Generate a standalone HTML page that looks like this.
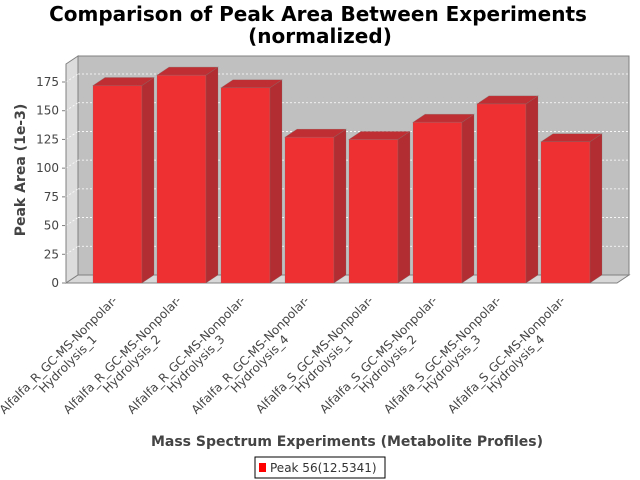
<!DOCTYPE html>
<html><head><meta charset="utf-8"><style>
body{margin:0;background:#fff}
svg{display:block;font-family:"DejaVu Sans","Liberation Sans",sans-serif}
</style></head><body>
<svg id="chart" width="640" height="480">
<rect width="640" height="480" fill="#fff"/>
<g font-weight="bold" font-size="20" text-anchor="middle" fill="#000">
<text x="318" y="21">Comparison of Peak Area Between Experiments</text>
<text x="320" y="43">(normalized)</text>
</g>
<g id="plot"></g>
<text transform="translate(25,170) rotate(-90)" text-anchor="middle" font-size="14" font-weight="bold" fill="#444">Peak Area (1e-3)</text>
<text x="347" y="446" text-anchor="middle" font-size="14" font-weight="bold" fill="#444">Mass Spectrum Experiments (Metabolite Profiles)</text>
<g>
<rect x="255" y="457" width="130" height="21" fill="#fff" stroke="#000"/>
<rect x="259" y="463" width="7" height="9" fill="#ff0000"/>
<text x="270" y="472" font-size="12" fill="#333">Peak 56(12.5341)</text>
</g>
</svg>
<script>
const categories=["Alfalfa_R_GC-MS-Nonpolar-|Hydrolysis_1","Alfalfa_R_GC-MS-Nonpolar-|Hydrolysis_2","Alfalfa_R_GC-MS-Nonpolar-|Hydrolysis_3","Alfalfa_R_GC-MS-Nonpolar-|Hydrolysis_4","Alfalfa_S_GC-MS-Nonpolar-|Hydrolysis_1","Alfalfa_S_GC-MS-Nonpolar-|Hydrolysis_2","Alfalfa_S_GC-MS-Nonpolar-|Hydrolysis_3","Alfalfa_S_GC-MS-Nonpolar-|Hydrolysis_4"];
const values=[172,181,170,127,125,140,156,123];
const yTicks=[0,25,50,75,100,125,150,175];
const NS="http://www.w3.org/2000/svg";
const g=document.getElementById('plot');
const X0=66,X1=617,Y0=283,TOP=64,DX=12,DY=-8,K=(283-82)/175;
const y=v=>Y0-v*K;
const xc=i=>117+i*(589-540+15)*1;
function el(t,a){const e=document.createElementNS(NS,t);for(const k in a)e.setAttribute(k,a[k]);g.appendChild(e);return e;}
let e;
e=el('polygon',{points:`${X0+DX},${TOP+DY} ${X1+DX},${TOP+DY} ${X1+DX},${Y0+DY} ${X0+DX},${Y0+DY}`,fill:'#c0c0c0',stroke:'#808080'});


e=el('polygon',{points:`${X0},${TOP} ${X0+DX},${TOP+DY} ${X0+DX},${Y0+DY} ${X0},${Y0}`,fill:'#dcdcdc',stroke:'#808080'});


e=el('polygon',{points:`${X0},${Y0} ${X0+DX},${Y0+DY} ${X1+DX},${Y0+DY} ${X1},${Y0}`,fill:'#d8d8d8',stroke:'#808080'});


yTicks.forEach(t=>{
  if(t>0){e=el('line',{x1:X0+DX,x2:X1+DX,y1:y(t)+DY,y2:y(t)+DY,stroke:'#fff','stroke-dasharray':'2,2','stroke-width':0.8});
  
  
  e=el('line',{x1:X0,x2:X0+DX,y1:y(t),y2:y(t)+DY,stroke:'#fff','stroke-dasharray':'2,2','stroke-width':0.8});
  
  }
  e=el('line',{x1:X0-4,x2:X0-1,y1:y(t),y2:y(t),stroke:'#808080'});
  
  
  e=el('text',{x:X0-7,y:y(t)+4,'text-anchor':'end','font-size':12,fill:'#444'});
  e.textContent=t;
  
  
});
e=el('line',{x1:X0,x2:X0,y1:TOP,y2:Y0,stroke:'#808080'});


e=el('line',{x1:X0,x2:X1,y1:Y0,y2:Y0,stroke:'#808080'});


values.forEach((v,i)=>{
  const l=xc(i)-24,r=xc(i)+25,t=y(v);
  const b=el('g',{});
  
  
  const mk=(pts,f)=>{const p=document.createElementNS(NS,'polygon');p.setAttribute('points',pts);p.setAttribute('fill',f);p.setAttribute('stroke','rgba(120,120,120,0.4)');p.setAttribute('stroke-width','0.6');b.appendChild(p);};
  mk(`${l},${t} ${r},${t} ${r},${Y0} ${l},${Y0}`,'#ee3033');
  mk(`${r},${t} ${r+DX},${t+DY} ${r+DX},${Y0+DY} ${r},${Y0}`,'#b22d31');
  mk(`${l},${t} ${l+DX},${t+DY} ${r+DX},${t+DY} ${r},${t}`,'#bf2e32');
  const [a,c]=categories[i].split('|');
  const lab=el('g',{transform:`translate(${xc(i)+1},301) rotate(-45)`,'font-size':12,fill:'#444'});
  
  
  const t1=document.createElementNS(NS,'text');t1.setAttribute('text-anchor','end');t1.textContent=a;lab.appendChild(t1);
  const t2=document.createElementNS(NS,'text');t2.setAttribute('text-anchor','middle');t2.setAttribute('x','-80');t2.setAttribute('y','13');t2.textContent=c;lab.appendChild(t2);
});
</script>
</body></html>
